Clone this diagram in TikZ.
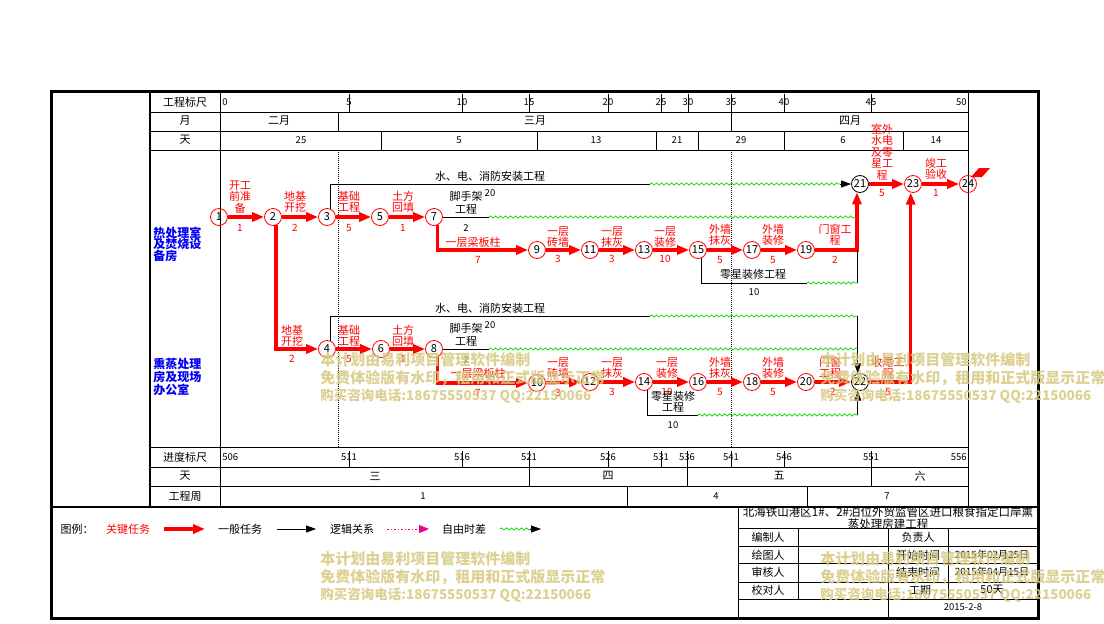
\documentclass[tikz,border=0pt]{standalone}
\usepackage{fontspec}
\setmainfont{Noto Sans CJK SC}
\usetikzlibrary{arrows.meta,decorations.pathmorphing}
\definecolor{wavegreen}{RGB}{0,215,0}
\definecolor{wmark}{RGB}{214,200,128}
\definecolor{secblue}{RGB}{0,0,240}

\begin{document}
\begin{tikzpicture}[x=1pt,y=-1pt,line width=0.8pt,font=\fontsize{11}{11}\selectfont,inner sep=0pt]
   \tikzset{ev/.style={draw=#1,circle,minimum size=17pt,inner sep=0pt},
            crit/.style={red,line width=3.2pt,-{Triangle[length=12pt,width=9pt]}},
            tipk/.style={black,-{Triangle[length=10pt,width=7pt]}},
            wave/.style={wavegreen,line width=0.7pt,decorate,decoration={snake,amplitude=1.1pt,segment length=5pt}},
            lab/.style={red,align=center,font=\fontsize{11}{11.5}\selectfont},
            dur/.style={red,font=\fontsize{10}{10}\selectfont},
            num/.style={font=\fontsize{9.5}{9.5}\selectfont},
            sec/.style={secblue,anchor=west,align=left,font=\fontsize{12}{11.5}\bfseries},
            wm/.style={wmark,anchor=west,opacity=0.85,font=\fontsize{15}{15}\bfseries}};

\useasboundingbox (0,0) rectangle (1104,624);

% frame and table
\draw[line width=3pt] (51,91) rectangle (1038,618);
\draw[line width=2pt] (150,91) -- (150,507);
\draw (220,91) -- (220,507);
\draw (968,91) -- (968,507);
\foreach \y in {112,131,150,447,467,486} \draw (150,\y) -- (968,\y);
\draw[line width=2pt] (51,507) -- (1038,507);

\node at (185,102) {工程标尺};
\node at (185,121) {月};
\node at (185,140) {天};
\node at (185,457) {进度标尺};
\node at (185,476) {天};
\node at (185,496) {工程周};

% scales
\node[num,anchor=west] at (222,102) {0};
\foreach \x/\t in {349/5,462/10,529/15,608/20,661/25,688/30,731/35,784/40,871/45}
  {\draw (\x,94) -- (\x,112); \node[num] at (\x,102) {\t};}
\node[num,anchor=east] at (967,102) {50};
\node[num,anchor=west] at (222,457) {506};
\foreach \x/\t in {349/511,462/516,529/521,608/526,661/531,687/536,731/541,784/546,871/551}
  {\draw (\x,451) -- (\x,467); \node[num] at (\x,457) {\t};}
\node[num,anchor=east] at (967,457) {556};

% months and days
\foreach \x in {338,731} \draw (\x,112) -- (\x,131);
\node at (279,121) {二月};
\node at (535,121) {三月};
\node at (850,121) {四月};
\foreach \x in {381,537,656,698,784,903} \draw (\x,131) -- (\x,150);
\foreach \x/\t in {301/25,459/5,596/13,677/21,741/29,843/6,936/14} \node[num] at (\x,140) {\t};
\foreach \x in {529,687,871} \draw (\x,467) -- (\x,486);
\node at (375,476) {三};
\node at (608,476) {四};
\node at (779,476) {五};
\node at (920,476) {六};
\foreach \x in {627,807} \draw (\x,486) -- (\x,507);
\foreach \x/\t in {423/1,716/4,887/7} \node[num] at (\x,496) {\t};

\draw[line width=0.6pt,dash pattern=on 1pt off 1pt] (338,150) -- (338,447);
\draw[line width=0.6pt,dash pattern=on 1pt off 1pt] (731,150) -- (731,447);

\node[sec] at (153,244) {热处理室\\及焚烧设\\备房};
\node[sec] at (153,377) {熏蒸处理\\房及现场\\办公室};

% events
\node[ev=red] (n1) at (219,217) {1};
\node[ev=red] (n2) at (273,217) {2};
\node[ev=red] (n3) at (327,217) {3};
\node[ev=red] (n5) at (380,217) {5};
\node[ev=red] (n7) at (434,217) {7};
\node[ev=red] (n9) at (537,250) {9};
\node[ev=red] (n11) at (590,250) {11};
\node[ev=red] (n13) at (644,250) {13};
\node[ev=red] (n15) at (698,250) {15};
\node[ev=red] (n17) at (752,250) {17};
\node[ev=red] (n19) at (806,250) {19};
\node[ev=black] (n21) at (860,184) {21};
\node[ev=red] (n23) at (913,184) {23};
\node[ev=red] (n24) at (968,184) {24};
\node[ev=red] (n4) at (327,349) {4};
\node[ev=red] (n6) at (381,349) {6};
\node[ev=red] (n8) at (434,349) {8};
\node[ev=red] (n10) at (537,383) {10};
\node[ev=red] (n12) at (590,382) {12};
\node[ev=red] (n14) at (644,382) {14};
\node[ev=red] (n16) at (698,382) {16};
\node[ev=red] (n18) at (752,382) {18};
\node[ev=red] (n20) at (806,382) {20};
\node[ev=black] (n22) at (860,382) {22};
\fill[red] (971,177) -- (979,168) -- (990,168) -- (982,177) -- cycle;

% critical path
\draw[crit] (n1) -- (n2);
\draw[crit] (n2) -- (n3);
\draw[crit] (n3) -- (n5);
\draw[crit] (n5) -- (n7);
\draw[crit] (n7.-65) |- (n9);
\draw[crit] (n9) -- (n11);
\draw[crit] (n11) -- (n13);
\draw[crit] (n13) -- (n15);
\draw[crit] (n15) -- (n17);
\draw[crit] (n17) -- (n19);
\draw[crit] (n19) -| (n21.-110);
\draw[crit] (n21) -- (n23);
\draw[crit] (n23) -- (n24);
\draw[crit] (n2.-70) |- (n4);
\draw[crit] (n4) -- (n6);
\draw[crit] (n6) -- (n8);
\draw[crit] (n8.-65) |- (n10);
\draw[crit] (n10) -- (n12);
\draw[crit] (n12) -- (n14);
\draw[crit] (n14) -- (n16);
\draw[crit] (n16) -- (n18);
\draw[crit] (n18) -- (n20);
\draw[crit] (n20) -- (n22);
\draw[crit] (n22) -| (n23.-105);

\node[lab] at (240,197) {开工\\前准\\备};   \node[dur] at (240,228) {1};
\node[lab] at (295,202) {地基\\开挖};       \node[dur] at (295,228) {2};
\node[lab] at (349,202) {基础\\工程};       \node[dur] at (349,228) {5};
\node[lab] at (403,202) {土方\\回填};       \node[dur] at (403,228) {1};
\node[lab] at (473,242) {一层梁板柱};       \node[dur] at (478,260) {7};
\node[lab] at (558,237) {一层\\砖墙};       \node[dur] at (558,259) {3};
\node[lab] at (612,237) {一层\\抹灰};       \node[dur] at (612,259) {3};
\node[lab] at (665,237) {一层\\装修};       \node[dur] at (665,259) {10};
\node[lab] at (720,235) {外墙\\抹灰};       \node[dur] at (720,260) {5};
\node[lab] at (773,235) {外墙\\装修};       \node[dur] at (773,260) {5};
\node[lab] at (835,235) {门窗工\\程};       \node[dur] at (835,260) {2};
\node[lab] at (882,152) {室外\\水电\\及零\\星工\\程}; \node[dur] at (882,193) {5};
\node[lab] at (936,169) {竣工\\验收};       \node[dur] at (936,193) {1};

\node[lab] at (292,336) {地基\\开挖};       \node[dur] at (292,359) {2};
\node[lab] at (349,336) {基础\\工程};       \node[dur] at (349,359) {5};
\node[lab] at (403,336) {土方\\回填};       \node[dur] at (403,359) {1};
\node[lab] at (478,373) {一层梁板柱};       \node[dur] at (478,393) {7};
\node[lab] at (558,368) {一层\\砖墙};       \node[dur] at (558,393) {3};
\node[lab] at (612,368) {一层\\抹灰};       \node[dur] at (612,392) {3};
\node[lab] at (667,368) {一层\\装修};       \node[dur] at (667,392) {10};
\node[lab] at (720,368) {外墙\\抹灰};       \node[dur] at (720,392) {5};
\node[lab] at (773,368) {外墙\\装修};       \node[dur] at (773,392) {5};
\node[lab] at (830,368) {门窗\\工程};       \node[dur] at (833,392) {2};
\node[lab] at (888,368) {收尾工\\程};       \node[dur] at (888,392) {5};

% other tasks
\coordinate (wA) at (650,184);
\coordinate (wAe) at (840,184);
\coordinate (sA) at (489,217);
\coordinate (sAe) at (n21.-110 |- sA);
\coordinate (lA) at (807,283);
\coordinate (lAe) at (n21.-110 |- lA);
\coordinate (cU) at (n21.-110 |- n19);
\draw (n3.65) |- (wA);
\draw[wave] (wA) -- (wAe);
\draw[tipk] (wAe) -- (n21);
\draw (n7) -- (sA);
\draw[wave] (sA) -- (sAe);
\draw (n15.-65) |- (lA);
\draw[wave] (lA) -- (lAe);
\draw (lAe) -- (cU);

\coordinate (wB) at (650,316);
\coordinate (wBe) at (n22.105 |- wB);
\coordinate (sB) at (489,349);
\coordinate (sBe) at (n22.105 |- sB);
\coordinate (lB) at (698,415);
\coordinate (lBe) at (n22.-105 |- lB);
\draw (n4.65) |- (wB);
\draw[wave] (wB) -- (wBe);
\draw[tipk] (wBe) -- (n22.105);
\draw (n8) -- (sB);
\draw[wave] (sB) -- (sBe);
\draw (n14.-65) |- (lB);
\draw[wave] (lB) -- (lBe);
\draw[tipk] (lBe) -- (n22.-105);

\node at (490,176) {水、电、消防安装工程};
\node at (466,196) {脚手架};
\node[num] at (490,193) {20};
\node at (466,209) {工程};
\node[num] at (466,228) {2};
\node at (753,274) {零星装修工程};
\node[num] at (754,292) {10};
\node at (490,308) {水、电、消防安装工程};
\node at (466,328) {脚手架};
\node[num] at (490,325) {20};
\node at (466,341) {工程};
\node[num] at (466,360) {2};
\node[align=center,font=\fontsize{11}{11.5}\selectfont] at (673,402) {零星装修\\工程};
\node[num] at (673,425) {10};

% legend
\node at (77,529) {图例：};
\node[red] at (128,529) {关键任务};
\draw[crit] (164,529) -- (205,529);
\node at (240,529) {一般任务};
\draw[tipk] (277,529) -- (316,529);
\node at (352,529) {逻辑关系};
\draw[magenta,dash pattern=on 1.5pt off 2pt,-{Triangle[length=10pt,width=8pt]}] (387,529) -- (429,529);
\node at (464,529) {自由时差};
\draw[wave] (500,529) -- (531,529);
\draw[tipk] (530,529) -- (541,529);

% title block
\draw (738,507) -- (738,618);
\foreach \y in {528,546,563,582,599} \draw (738,\y) -- (1038,\y);
\draw (798,528) -- (798,599);
\draw (888,528) -- (888,618);
\draw (948,528) -- (948,599);
\node[align=center,font=\fontsize{11.5}{10.5}\selectfont] at (888,518) {北海铁山港区1\#、2\#泊位外贸监管区进口粮食指定口岸熏\\蒸处理房建工程};
\node at (768,537) {编制人};
\node at (918,537) {负责人};
\node at (768,555) {绘图人};
\node at (918,555) {开始时间};
\node[font=\fontsize{10}{10}\selectfont] at (992,555) {2015年02月25日};
\node at (768,572) {审核人};
\node at (918,572) {结束时间};
\node[font=\fontsize{10}{10}\selectfont] at (992,572) {2015年04月15日};
\node at (768,590) {校对人};
\node at (920,590) {工期};
\node at (992,590) {50天};
\node[num] at (963,607) {2015-2-8};

% watermark
\foreach \wx/\wy in {320/360,820/360,320/559,820/559}
  {\node[wm] at (\wx,\wy) {本计划由易利项目管理软件编制};
   \node[wm] at (\wx,\wy+18) {免费体验版有水印，租用和正式版显示正常};
   \node[wm,font=\fontsize{13.5}{13.5}\bfseries] at (\wx,\wy+36) {购买咨询电话:18675550537 QQ:22150066};}

\end{tikzpicture}
\end{document}
